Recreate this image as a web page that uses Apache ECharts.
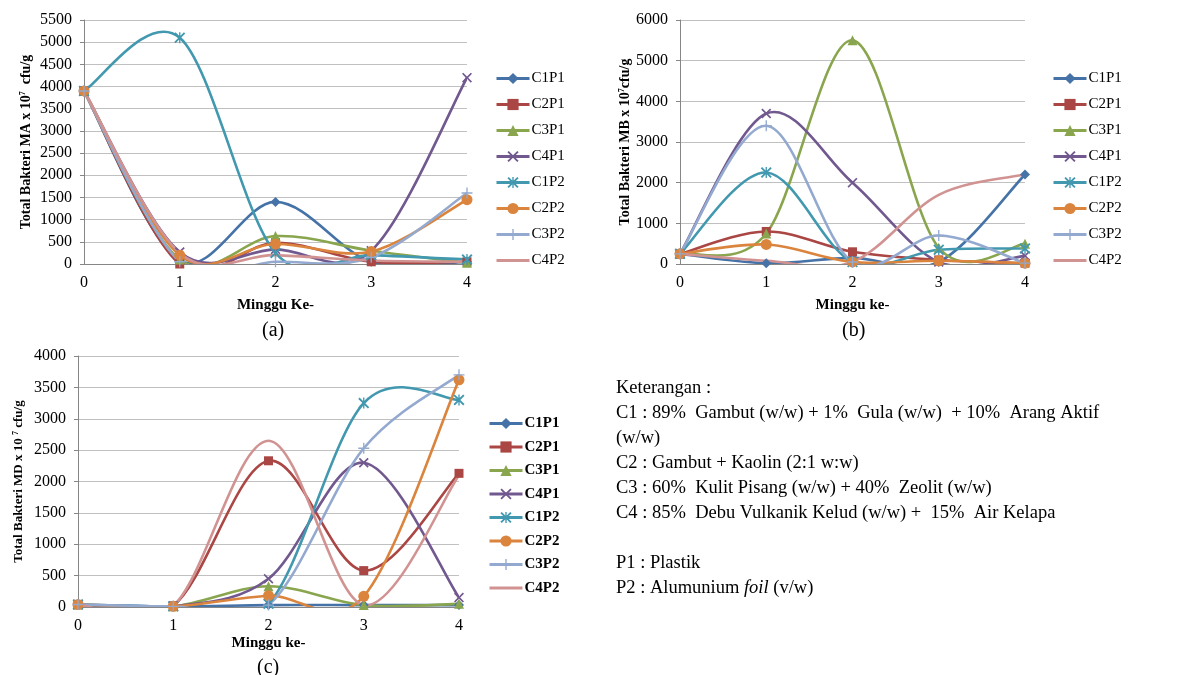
<!DOCTYPE html>
<html>
<head>
<meta charset="utf-8">
<script src="https://cdn.jsdelivr.net/npm/echarts@6/dist/echarts.min.js"></script>
<style>
    html, body { margin: 0; padding: 0; background: #fff; }
    #main { width: 1180px; height: 675px; }
</style>
</head>
<body>
<div id="main"></div>
<script>
const weeks = [0, 1, 2, 3, 4]
const names = ['C1P1', 'C2P1', 'C3P1', 'C4P1', 'C1P2', 'C2P2', 'C3P2', 'C4P2']

// (a) Total Bakteri MA
const maC1P1 = [3900, 80, 1400, 50, 50]
const maC2P1 = [3900, 0, 480, 50, 50]
const maC3P1 = [3900, 100, 630, 300, 30]
const maC4P1 = [3900, 270, 330, 300, 4200]
const maC1P2 = [3900, 5100, 250, 200, 100]
const maC2P2 = [3900, 200, 450, 280, 1450]
const maC3P2 = [3900, 50, 50, 150, 1600]
const maC4P2 = [3900, 250, 200, 80, 50]

// (b) Total Bakteri MB
const mbC1P1 = [250, 20, 150, 50, 2200]
const mbC2P1 = [250, 800, 300, 100, 20]
const mbC3P1 = [250, 750, 5500, 400, 500]
const mbC4P1 = [250, 3700, 2000, 50, 200]
const mbC1P2 = [250, 2250, 50, 350, 380]
const mbC2P2 = [250, 480, 50, 80, 20]
const mbC3P2 = [250, 3400, 50, 700, 20]
const mbC4P2 = [250, 80, 50, 1700, 2200]

// (c) Total Bakteri MD
const mdC1P1 = [40, 10, 30, 30, 30]
const mdC2P1 = [40, 20, 2330, 580, 2130]
const mdC3P1 = [40, 10, 330, 30, 50]
const mdC4P1 = [40, 10, 450, 2300, 150]
const mdC1P2 = [40, 10, 50, 3250, 3300]
const mdC2P2 = [40, 10, 180, 170, 3620]
const mdC3P2 = [40, 10, 30, 2530, 3700]
const mdC4P2 = [40, 20, 2650, 30, 2100]

const colors = ['#4572A7', '#AA4643', '#89A54E', '#71588F', '#4198AF', '#DB843D', '#93A9CF', '#D19392']

const xMark = 'path://M0,1.2L1.2,0L5,3.8L8.8,0L10,1.2L6.2,5L10,8.8L8.8,10L5,6.2L1.2,10L0,8.8L3.8,5Z'
const starMark = xMark + 'M4.4,0L5.6,0L5.6,10L4.4,10Z'
const plusMark = 'path://M4.4,0L5.6,0L5.6,4.4L10,4.4L10,5.6L5.6,5.6L5.6,10L4.4,10L4.4,5.6L0,5.6L0,4.4L4.4,4.4Z'
const symbols = ['diamond', 'rect', 'triangle', xMark, starMark, 'circle', plusMark, 'none']
const symbolSizes = [10, 9, 10, 10, 11, 11, 11, 0]
// plain line icon for the series without marker
const lineIcon = 'path://M0,0L0.01,0ZM0,14L0.01,14ZM0,5.5L33,5.5L33,8.5L0,8.5Z'

const serif = "'Times New Roman', 'Liberation Serif', serif"

const chartDom = document.getElementById('main')
const myChart = echarts.init(chartDom)

// Excel-like smoothed line (Catmull-Rom through the points)
function curve(values, idx, gi) {
    return {
        type: 'custom',
        xAxisIndex: gi,
        yAxisIndex: gi,
        clip: true,
        silent: true,
        z: 2,
        data: values.map((v, i) => [weeks[i], v]),
        encode: { x: 0, y: 1 },
        renderItem: function (params, api) {
            if (params.dataIndex !== 0) return null
            const p = values.map((v, i) => api.coord([weeks[i], v]))
            let d = 'M' + p[0][0] + ',' + p[0][1]
            for (let i = 0; i < p.length - 1; i++) {
                const a = p[i - 1] || p[i]
                const b = p[i]
                const c = p[i + 1]
                const e = p[i + 2] || p[i + 1]
                d += 'C' + (b[0] + (c[0] - a[0]) / 6) + ',' + (b[1] + (c[1] - a[1]) / 6) +
                    ',' + (c[0] - (e[0] - b[0]) / 6) + ',' + (c[1] - (e[1] - b[1]) / 6) +
                    ',' + c[0] + ',' + c[1]
            }
            return {
                type: 'path',
                shape: { pathData: d },
                style: { stroke: colors[idx], lineWidth: 2.6, fill: 'none' }
            }
        }
    }
}

// markers (the line itself is drawn by curve())
function marks(values, idx, gi) {
    return {
        name: names[idx],
        type: 'line',
        xAxisIndex: gi,
        yAxisIndex: gi,
        data: values.map((v, i) => [weeks[i], v]),
        symbol: symbols[idx],
        symbolSize: symbolSizes[idx],
        showSymbol: true,
        clip: false,
        z: 2,
        color: colors[idx],
        itemStyle: { color: colors[idx] },
        lineStyle: { color: colors[idx], width: 3, opacity: 0 },
        animation: false
    }
}

function yAxis(gi, max, interval, name, gap, fontSize) {
    return {
        gridIndex: gi,
        type: 'value',
        min: 0,
        max: max,
        interval: interval,
        name: name,
        nameLocation: 'middle',
        nameRotate: 90,
        nameGap: gap,
        nameTextStyle: {
            fontFamily: serif,
            fontWeight: 'bold',
            fontSize: fontSize,
            color: '#000',
            rich: {
                sup: { fontFamily: serif, fontWeight: 'bold', fontSize: 8, verticalAlign: 'top', color: '#000' }
            }
        },
        axisLine: { show: true, lineStyle: { color: '#868686', width: 1 } },
        axisTick: { show: true, length: 4, lineStyle: { color: '#868686' } },
        splitLine: { lineStyle: { color: '#C0C0C0', width: 1 } },
        axisLabel: { fontFamily: serif, fontSize: 16, color: '#000', margin: 12, formatter: v => String(v) }
    }
}

function xAxis(gi, name, gap) {
    return {
        gridIndex: gi,
        type: 'value',
        min: 0,
        max: 4,
        interval: 1,
        name: name,
        nameLocation: 'middle',
        nameGap: gap,
        nameTextStyle: { fontFamily: serif, fontWeight: 'bold', fontSize: 15, color: '#000' },
        axisLine: { show: true, onZero: false, lineStyle: { color: '#868686', width: 1 } },
        axisTick: { show: false },
        splitLine: { show: false },
        axisLabel: { fontFamily: serif, fontSize: 16, color: '#000', margin: 11, formatter: v => String(v) }
    }
}

function legend(left, top, gap, bold) {
    return {
        orient: 'vertical',
        left: left,
        top: top,
        padding: 0,
        itemWidth: 33,
        itemHeight: 14,
        itemGap: gap,
        selectedMode: false,
        data: names.map(n => n === 'C4P2' ? { name: n, icon: lineIcon } : n),
        lineStyle: { width: 3, opacity: 1 },
        textStyle: { fontFamily: serif, fontSize: 15, color: '#000', fontWeight: bold ? 'bold' : 'normal', padding: [0, 0, 0, -3] }
    }
}

const dataSets = [
    [maC1P1, maC2P1, maC3P1, maC4P1, maC1P2, maC2P2, maC3P2, maC4P2],
    [mbC1P1, mbC2P1, mbC3P1, mbC4P1, mbC1P2, mbC2P2, mbC3P2, mbC4P2],
    [mdC1P1, mdC2P1, mdC3P1, mdC4P1, mdC1P2, mdC2P2, mdC3P2, mdC4P2]
]

const series = []
dataSets.forEach((set, gi) => {
    set.forEach((values, idx) => {
        series.push(curve(values, idx, gi))
        series.push(marks(values, idx, gi))
    })
})

const option = {
    animation: false,
    backgroundColor: '#fff',
    grid: [
        { left: 84, top: 20, width: 383, height: 244 },
        { left: 680, top: 20, width: 345, height: 244 },
        { left: 78, top: 356, width: 381, height: 251 }
    ],
    xAxis: [
        xAxis(0, 'Minggu Ke-', 34),
        xAxis(1, 'Minggu ke-', 34),
        xAxis(2, 'Minggu ke-', 29)
    ],
    yAxis: [
        yAxis(0, 5500, 500, 'Total Bakteri MA x 10{sup|7}  cfu/g', 51, 14),
        yAxis(1, 6000, 1000, 'Total Bakteri MB x 10{sup|7}cfu/g', 45, 14),
        yAxis(2, 4000, 500, 'Total Bakteri MD x 10 {sup|7} cfu/g', 53, 13)
    ],
    legend: [
        legend(495, 71, 11, false),
        legend(1052, 71, 11, false),
        legend(488, 416, 8.5, true)
    ],
    graphic: [
        { type: 'text', left: 262, top: 321, style: { text: '(a)', font: '20px ' + serif, fill: '#000' } },
        { type: 'text', left: 842, top: 321, style: { text: '(b)', font: '20px ' + serif, fill: '#000' } },
        { type: 'text', left: 257, top: 658, style: { text: '(c)', font: '20px ' + serif, fill: '#000' } },
        {
            type: 'text',
            left: 616,
            top: 376,
            style: {
                text: [
                    'Keterangan :',
                    'C1 : 89%  Gambut (w/w) + 1%  Gula (w/w)  + 10%  Arang Aktif',
                    '(w/w)',
                    'C2 : Gambut + Kaolin (2:1 w:w)',
                    'C3 : 60%  Kulit Pisang (w/w) + 40%  Zeolit (w/w)',
                    'C4 : 85%  Debu Vulkanik Kelud (w/w) +  15%  Air Kelapa',
                    '',
                    'P1 : Plastik',
                    'P2 : Alumunium {i|foil} (v/w)'
                ].join('\n'),
                font: '18.5px ' + serif,
                lineHeight: 25,
                fill: '#000',
                rich: {
                    i: { fontFamily: serif, fontSize: 18.5, fontStyle: 'italic', lineHeight: 25, fill: '#000' }
                }
            }
        }
    ],
    series: series
}

myChart.setOption(option)
</script>
</body>
</html>
